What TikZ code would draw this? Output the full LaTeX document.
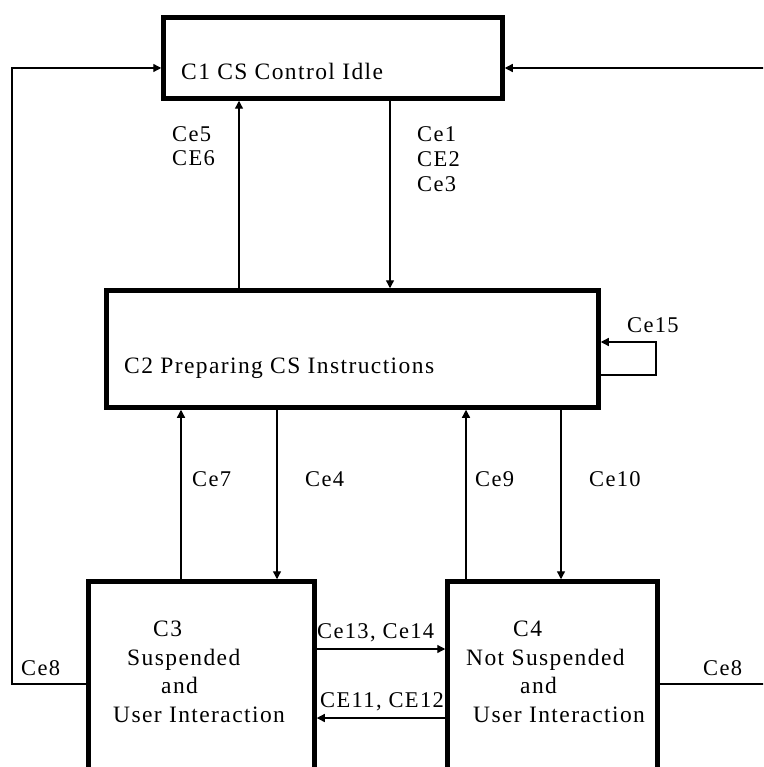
\documentclass[tikz,border=0pt]{standalone}
\usepackage{fontspec}
\setmainfont{Liberation Serif}[LetterSpace=6]
\usetikzlibrary{arrows.meta}
\tikzset{
	state/.style={draw, line width=4.5pt, inner sep=0pt},
	lbl/.style={anchor=base west, inner sep=0pt, align=left},
	statetxt/.style={lbl, font=\fontsize{23.5}{28.5}\selectfont},
	conn/.style={line width=1.3pt, -{Triangle[length=8pt,width=8pt]}}
}
\begin{document}
\begin{tikzpicture}[x=1pt, y=-1pt, font=\fontsize{22.5}{28.5}\selectfont]
	\useasboundingbox (0,0) rectangle (763,767);
	\clip (0,0) rectangle (763,767);
	% states
	\node [state, minimum width=339pt, minimum height=81pt] (c1) at (333,58) {};
	\node [state, minimum width=492pt, minimum height=117pt] (c2) at (352.5,349) {};
	\node [state, minimum width=226pt, minimum height=240pt] (c3) at (201.5,701.5) {};
	\node [state, minimum width=210pt, minimum height=240pt] (c4) at (552.5,701.5) {};
	\node [statetxt] (c1txt) at (181,80) {C1 CS Control Idle};
	\node [statetxt] (c2txt) at (124,373) {C2 Preparing CS Instructions};
	\node [statetxt] (c3txt) at (113,722) {\hspace*{40pt}C3\\\hspace*{14pt}Suspended\\\hspace*{48pt}and\\User Interaction};
	\node [statetxt] (c4txt) at (466,722) {\hspace*{47pt}C4\\Not Suspended\\\hspace*{54pt}and\\\hspace*{7pt}User Interaction};
	% transitions
	\draw [conn] (c2.north -| 239,0) -- (c1.south -| 239,0);
	\draw [conn] (c1.south -| 390,0) -- (c2.north -| 390,0);
	\draw [conn] (c3.north -| 181,0) -- (c2.south -| 181,0);
	\draw [conn] (c2.south -| 277,0) -- (c3.north -| 277,0);
	\draw [conn] (c4.north -| 466,0) -- (c2.south -| 466,0);
	\draw [conn] (c2.south -| 561,0) -- (c4.north -| 561,0);
	\draw [conn] (c2.east |- 0,375) -- (656,375) |- (c2.east |- 0,342);
	\draw [conn] (c3.east |- 0,649) -- (c4.west |- 0,649);
	\draw [conn] (c4.west |- 0,718) -- (c3.east |- 0,718);
	\draw [conn] (c3.west |- 0,684) -- (12,684) |- (c1.west |- 0,68);
	\draw [conn] (c4.east |- 0,684) -- (780,684) |- (c1.east |- 0,68);
	% labels
	\node [lbl, font=\fontsize{22.5}{24.5}\selectfont] (l56) at (172,166) {Ce5\\CE6};
	\node [lbl, font=\fontsize{22.5}{25}\selectfont] (l123) at (417,192) {Ce1\\CE2\\Ce3};
	\node [lbl] (l15) at (627,332) {Ce15};
	\node [lbl] (l7) at (192,486) {Ce7};
	\node [lbl] (l4) at (305,486) {Ce4};
	\node [lbl] (l9) at (475,486) {Ce9};
	\node [lbl] (l10) at (589,486) {Ce10};
	\node [lbl] (l1314) at (317,638) {Ce13, Ce14};
	\node [lbl] (l1112) at (320,707) {CE11, CE12};
	\node [lbl] (l8a) at (21,675) {Ce8};
	\node [lbl] (l8b) at (703,675) {Ce8};
\end{tikzpicture}
\end{document}
